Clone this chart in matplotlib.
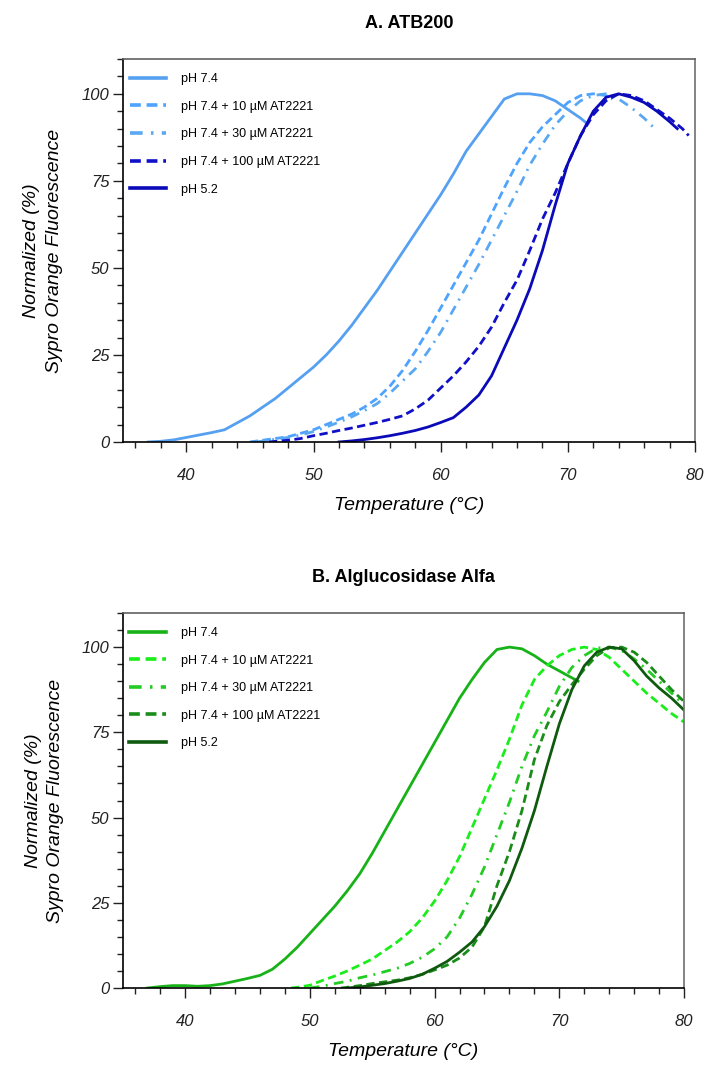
import matplotlib
matplotlib.use("Agg")
import matplotlib.pyplot as plt
from matplotlib.ticker import MultipleLocator

# Legend labels (same for both panels)
labels = ["pH 7.4", "pH 7.4 + 10 \u00b5M AT2221", "pH 7.4 + 30 \u00b5M AT2221",
          "pH 7.4 + 100 \u00b5M AT2221", "pH 5.2"]

# Panel A - ATB200 (temperature in C, normalized fluorescence in %)
a_ph74_t = [37, 38, 39, 40, 41, 42, 43, 44, 45, 46, 47, 48, 49, 50, 51, 52, 53, 54,
            55, 56, 57, 58, 59, 60, 61, 62, 63, 64, 65, 66, 67, 68, 69, 70, 71, 71.5]
a_ph74_y = [0, 0.2, 0.6, 1.3, 2.0, 2.7, 3.5, 5.5, 7.5, 10, 12.5, 15.5, 18.5, 21.5, 25,
            29, 33.5, 38.5, 43.5, 49, 54.5, 60, 65.5, 71, 77, 83.5, 88.5, 93.5, 98.5, 100,
            100, 99.5, 98, 95.5, 93, 91.5]

a_10_t = [45, 46, 47, 48, 49, 50, 51, 52, 53, 54, 55, 56, 57, 58, 59, 60, 61, 62, 63,
          64, 65, 66, 67, 68, 69, 70, 71, 72, 73, 73.5]
a_10_y = [0, 0.5, 1, 1.5, 2.5, 3.5, 5, 6.5, 8, 10, 12.5, 16, 20.5, 26, 32, 38.5, 45,
          51.5, 58, 65.5, 73, 80, 86, 90.5, 94, 97.5, 99.5, 100, 99.5, 98.5]

a_30_t = [45.5, 47, 48, 49, 50, 51, 52, 53, 54, 55, 56, 57, 58, 59, 60, 61, 62, 63, 64,
          65, 66, 67, 68, 69, 70, 71, 72, 73, 74, 75, 76, 76.7]
a_30_y = [0, 0.8, 1.3, 2, 3, 4.3, 5.7, 7.2, 9, 11, 14, 17.5, 21, 26, 31.5, 38, 44.5, 51,
          58, 65, 72, 79.5, 85.5, 91, 95, 98, 99.5, 100, 98.5, 96, 93, 90.5]

a_100_t = [46.5, 48, 49, 50, 51, 52, 53, 54, 55, 56, 57, 58, 59, 60, 61, 62, 63, 64, 65,
           66, 67, 68, 69, 70, 71, 72, 73, 74, 75, 76, 77, 78, 79, 79.5]
a_100_y = [0, 0.5, 1, 1.8, 2.5, 3.3, 4, 4.8, 5.6, 6.5, 7.5, 9.5, 12, 15.5, 19, 23, 27.5,
           33, 40, 46.5, 55, 64, 71.5, 80, 88, 94, 98, 100, 99.5, 98, 95.5, 93, 90, 88]

a_ph52_t = [52, 53, 54, 55, 56, 57, 58, 59, 60, 61, 62, 63, 64, 65, 66, 67, 68, 69, 70,
            71, 72, 73, 74, 75, 76, 77, 78, 78.6]
a_ph52_y = [0, 0.3, 0.7, 1.2, 1.8, 2.5, 3.3, 4.3, 5.6, 7, 10, 13.5, 19, 27, 35, 44, 55,
            68, 80, 88, 95, 99, 100, 99, 97.5, 95, 92, 90]

# Panel B - Alglucosidase Alfa
b_ph74_t = [37, 38, 39, 40, 41, 42, 43, 44, 45, 46, 47, 48, 49, 50, 51, 52, 53, 54,
            55, 56, 57, 58, 59, 60, 61, 62, 63, 64, 65, 66, 67, 68, 69, 70, 71, 71.5]
b_ph74_y = [0, 0.4, 0.7, 0.7, 0.5, 0.7, 1.2, 2, 2.8, 3.7, 5.5, 8.5, 12, 16, 20, 24, 28.5,
            33.5, 39.5, 46, 52.5, 59, 65.5, 72, 78.5, 85, 90.5, 95.5, 99.3, 100, 99.5,
            97.5, 95, 93, 91, 90]

b_10_t = [48.5, 49, 50, 51, 52, 53, 54, 55, 56, 57, 58, 59, 60, 61, 62, 63, 64, 65, 66,
          67, 68, 69, 70, 71, 72, 73, 74, 75, 76, 77, 78, 79, 80]
b_10_y = [0, 0.2, 0.8, 2.2, 3.5, 5, 6.7, 8.5, 11, 13.5, 16.5, 20.5, 25.5, 31.5, 38.5, 47,
          55.5, 64, 73, 83, 90.5, 94.5, 97.5, 99.3, 100, 99.3, 97, 93.5, 90, 86.5, 83.5,
          80.5, 78]

b_30_t = [50, 51, 52, 53, 54, 55, 56, 57, 58, 59, 60, 61, 62, 63, 64, 65, 66, 67, 68, 69,
          70, 71, 72, 73, 74, 75, 76, 77, 78, 79, 80]
b_30_y = [0, 0.5, 1.3, 2, 3, 3.8, 4.8, 5.8, 7.2, 9, 11.5, 15, 20.5, 27.5, 35.5, 45, 54.5,
          65, 74, 81, 88.5, 94, 97.5, 99.7, 100, 99, 96.5, 93.5, 90, 86.5, 83]

b_100_t = [52.5, 53, 54, 55, 56, 57, 58, 59, 60, 61, 62, 63, 64, 65, 66, 67, 68, 69, 70,
           71, 72, 73, 74, 75, 76, 77, 78, 79, 80]
b_100_y = [0, 0.2, 0.7, 1.3, 1.8, 2.3, 3, 4, 5.3, 6.7, 8.8, 12, 18, 30, 40, 52, 67, 77,
           84, 89, 93.5, 97.5, 99.8, 100, 98.5, 95.5, 91.5, 87.5, 84]

b_ph52_t = [53, 54, 55, 56, 57, 58, 59, 60, 61, 62, 63, 64, 65, 66, 67, 68, 69, 70, 71,
            72, 73, 74, 75, 76, 77, 78, 79, 80]
b_ph52_y = [0, 0.3, 0.8, 1.3, 2, 2.8, 4, 5.8, 7.8, 10.5, 13.5, 18, 24, 31.5, 41, 52, 65,
            77.5, 87.5, 94.5, 98.5, 100, 99.5, 96, 91.5, 88, 85, 81.5]


def style_axes(ax, title, xmax):
    #Axis limits and ticks
    ax.set_xlim(35, xmax)
    ax.set_ylim(0, 110)
    ax.xaxis.set_major_locator(MultipleLocator(10))
    ax.xaxis.set_minor_locator(MultipleLocator(2))
    ax.yaxis.set_minor_locator(MultipleLocator(5))
    ax.set_yticks([0, 25, 50, 75, 100])
    ax.tick_params(which="major", direction="out", length=7, width=1, labelsize=12,
                   colors="#222222")
    ax.tick_params(which="minor", direction="out", length=4.5, width=1, colors="#222222")
    ax.tick_params(axis="x", which="major", pad=12)
    ax.tick_params(axis="y", which="major", pad=2.5)
    for lab in ax.get_xticklabels() + ax.get_yticklabels():
        lab.set_fontstyle("italic")

    #Spines: black left/bottom, gray top/right
    ax.spines["left"].set_color("black")
    ax.spines["bottom"].set_color("black")
    ax.spines["top"].set_color("#606060")
    ax.spines["right"].set_color("#707070")
    for s in ax.spines.values():
        s.set_linewidth(1.2)

    ax.set_title(title, fontsize=13, fontweight="bold", pad=22)
    ax.set_xlabel("Temperature (\u00b0C)", fontsize=14, fontstyle="italic", labelpad=10)
    ax.set_ylabel("Normalized (%)\nSypro Orange Fluorescence", fontsize=14,
                  fontstyle="italic", linespacing=1.45)
    ax.yaxis.set_label_coords(-0.104, 0.5)

    leg = ax.legend(loc="upper left", bbox_to_anchor=(0.012, 0.963), frameon=False,
                    fontsize=9, handlelength=2.9, handletextpad=1.2, labelspacing=1.25,
                    borderaxespad=0, borderpad=0)
    for line in leg.get_lines():
        line.set_linewidth(2.6)


def main():
    plt.rcParams["font.family"] = ["Liberation Sans", "DejaVu Sans"]

    fig = plt.figure(figsize=(7.07, 10.65), dpi=100)
    ax1 = fig.add_axes([0.1736, 0.585, 0.8095, 0.3596])
    ax2 = fig.add_axes([0.1736, 0.0723, 0.794, 0.3521])

    lw = 2
    dash = (3, 1.6)
    dashdot = (3.5, 2.3, 0.7, 2.3)
    # Panel A
    ax1.plot(a_ph74_t, a_ph74_y, color="#55a0f0", lw=lw, label=labels[0])
    ax1.plot(a_10_t, a_10_y, color="#4da3ff", lw=lw, dashes=dash, label=labels[1])
    ax1.plot(a_30_t, a_30_y, color="#5aa8f2", lw=lw, dashes=dashdot, label=labels[2])
    ax1.plot(a_100_t, a_100_y, color="#1010c8", lw=lw, dashes=dash, label=labels[3])
    ax1.plot(a_ph52_t, a_ph52_y, color="#0a0ab8", lw=lw, label=labels[4])
    style_axes(ax1, "A. ATB200", 80)

    # Panel B
    ax2.plot(b_ph74_t, b_ph74_y, color="#17b217", lw=lw, label=labels[0])
    ax2.plot(b_10_t, b_10_y, color="#1aee1a", lw=lw, dashes=dash, label=labels[1])
    ax2.plot(b_30_t, b_30_y, color="#22cc22", lw=lw, dashes=dashdot, label=labels[2])
    ax2.plot(b_100_t, b_100_y, color="#1a8c1a", lw=lw, dashes=dash, label=labels[3])
    ax2.plot(b_ph52_t, b_ph52_y, color="#0f5a0f", lw=lw, label=labels[4])
    style_axes(ax2, "B. Alglucosidase Alfa", 80)

    fig.savefig("out.png", dpi=100)


if __name__ == "__main__":
    main()
